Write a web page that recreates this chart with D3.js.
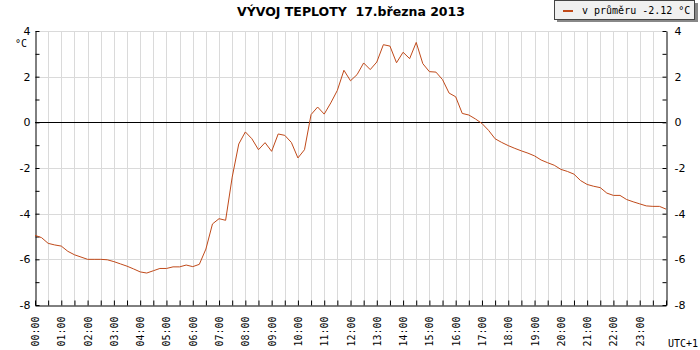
<!DOCTYPE html>
<html>
<head>
<meta charset="utf-8">
<script src="https://cdn.jsdelivr.net/npm/d3@7"></script>
<style>
  body { margin: 0; background: #fff; }
  svg { display: block; }
</style>
</head>
<body>
<svg id="chart" width="700" height="350"></svg>
<script>
// temperature every 15 minutes, 00:00 .. 24:00
const stepMinutes = 15;
const temps = [
  -4.95, -5.05, -5.30, -5.37, -5.42, -5.65, -5.80, -5.90,
  -6.00, -6.00, -6.00, -6.02, -6.10, -6.20, -6.30, -6.42,
  -6.55, -6.60, -6.50, -6.40, -6.40, -6.33, -6.33, -6.25,
  -6.32, -6.22, -5.55, -4.45, -4.22, -4.29, -2.40, -0.95,
  -0.42, -0.72, -1.20, -0.89, -1.27, -0.51, -0.57, -0.88,
  -1.56, -1.20, 0.34, 0.67, 0.36, 0.85, 1.40, 2.28,
  1.82, 2.09, 2.60, 2.31, 2.64, 3.40, 3.34, 2.61,
  3.07, 2.79, 3.50, 2.57, 2.22, 2.20, 1.87, 1.28,
  1.12, 0.39, 0.32, 0.15, -0.05, -0.35, -0.72, -0.88,
  -1.02, -1.14, -1.25, -1.35, -1.47, -1.65, -1.77, -1.88,
  -2.06, -2.15, -2.27, -2.55, -2.72, -2.80, -2.86, -3.10,
  -3.20, -3.20, -3.38, -3.48, -3.57, -3.66, -3.68, -3.68,
  -3.80
];

const hourLabels = [
  "00:00", "01:00", "02:00", "03:00", "04:00", "05:00", "06:00", "07:00",
  "08:00", "09:00", "10:00", "11:00", "12:00", "13:00", "14:00", "15:00",
  "16:00", "17:00", "18:00", "19:00", "20:00", "21:00", "22:00", "23:00"
];
const yTicks = [-8, -7, -6, -5, -4, -3, -2, -1, 0, 1, 2, 3, 4];

const titleText = "VÝVOJ TEPLOTY  17.března 2013";
const legendText = "v průměru -2.12 °C";
const unitText = "°C";
const tzText = "UTC+1";

const lineColor = "#c04a1a";
const gridColor = "#dadada";

const svg = d3.select("#chart");
const plotLeft = 35, plotRight = 666, plotTop = 31, plotBottom = 305;

const data = temps.map((t, i) => ({ min: i * stepMinutes, temp: t }));

const x = d3.scaleLinear().domain([0, 1440]).range([plotLeft, plotRight]);
const y = d3.scaleLinear().domain([-8, 4]).range([plotBottom, plotTop]);

const halfHours = d3.range(0, 1441, 30);

// grid
svg.append("g")
  .selectAll("line")
  .data(halfHours.filter(m => m > 0 && m < 1440))
  .join("line")
  .attr("x1", d => Math.round(x(d)) + 0.5)
  .attr("x2", d => Math.round(x(d)) + 0.5)
  .attr("y1", plotTop)
  .attr("y2", plotBottom)
  .attr("stroke", gridColor);

svg.append("g")
  .selectAll("line")
  .data([-6, -4, -2, 2, 4])
  .join("line")
  .attr("x1", plotLeft)
  .attr("x2", plotRight)
  .attr("y1", d => Math.round(y(d)) + 0.5)
  .attr("y2", d => Math.round(y(d)) + 0.5)
  .attr("stroke", gridColor);

// zero line
svg.append("line")
  .attr("x1", plotLeft).attr("x2", plotRight)
  .attr("y1", Math.round(y(0)) + 0.5).attr("y2", Math.round(y(0)) + 0.5)
  .attr("stroke", "#000");

const labelFmt = d => (d % 2 === 0 ? String(d) : "");

// axes
const yLeft = svg.append("g")
  .attr("transform", `translate(${plotLeft + 0.5},0)`)
  .call(d3.axisLeft(y).tickValues(yTicks).tickFormat(labelFmt)
    .tickSize(-4).tickSizeOuter(0).tickPadding(5));

const yRight = svg.append("g")
  .attr("transform", `translate(${plotRight + 0.5},0)`)
  .call(d3.axisRight(y).tickValues(yTicks).tickFormat(labelFmt)
    .tickSize(-4).tickSizeOuter(0).tickPadding(8));

const xAxis = svg.append("g")
  .attr("transform", `translate(0,${plotBottom + 0.5})`)
  .call(d3.axisBottom(x).tickValues(halfHours)
    .tickFormat(d => (d % 60 === 0 && d < 1440 ? hourLabels[d / 60] : ""))
    .tickSize(-5).tickSizeOuter(0));

xAxis.selectAll("text")
  .attr("transform", "rotate(-90)")
  .attr("text-anchor", "end")
  .attr("x", -11)
  .attr("y", 0)
  .attr("dy", ".35em")
  .style("font-family", "'DejaVu Sans Mono', monospace")
  .style("font-size", "10px");

[yLeft, yRight].forEach(a => a.selectAll("text")
  .style("font-family", "'DejaVu Sans', sans-serif")
  .style("font-size", "11px"));

[yLeft, yRight, xAxis].forEach(a => {
  a.select(".domain").attr("stroke", "#000");
  a.selectAll(".tick line").attr("stroke", "#000");
  a.selectAll("text").attr("fill", "#000");
});

// temperature line
const line = d3.line()
  .x(d => x(d.min))
  .y(d => y(d.temp));

svg.append("path")
  .datum(data)
  .attr("fill", "none")
  .attr("stroke", lineColor)
  .attr("stroke-width", 1)
  .attr("d", line);

// title
svg.append("text")
  .attr("x", 351)
  .attr("y", 16)
  .attr("text-anchor", "middle")
  .style("font-family", "'DejaVu Sans', sans-serif")
  .style("font-weight", "bold")
  .style("font-size", "12.5px")
  .style("white-space", "pre")
  .text(titleText);

// unit label
svg.append("text")
  .attr("x", 27)
  .attr("y", 47)
  .attr("text-anchor", "end")
  .style("font-family", "'DejaVu Sans Mono', monospace")
  .style("font-size", "10px")
  .text(unitText);

// timezone label
svg.append("text")
  .attr("x", 668)
  .attr("y", 347)
  .style("font-family", "'DejaVu Sans Mono', monospace")
  .style("font-size", "10px")
  .text(tzText);

// legend
const legend = svg.append("g");
legend.append("rect")
  .attr("x", 557).attr("y", 3)
  .attr("width", 141).attr("height", 19)
  .attr("fill", "#888");
legend.append("rect")
  .attr("x", 554.5).attr("y", 0.5)
  .attr("width", 140).attr("height", 19)
  .attr("fill", "#f0f0f0")
  .attr("stroke", "#444");
legend.append("line")
  .attr("x1", 563).attr("x2", 573)
  .attr("y1", 11).attr("y2", 11)
  .attr("stroke", lineColor)
  .attr("stroke-width", 2);
legend.append("text")
  .attr("x", 582)
  .attr("y", 14)
  .style("font-family", "'DejaVu Sans Mono', monospace")
  .style("font-size", "10px")
  .text(legendText);
</script>
</body>
</html>
